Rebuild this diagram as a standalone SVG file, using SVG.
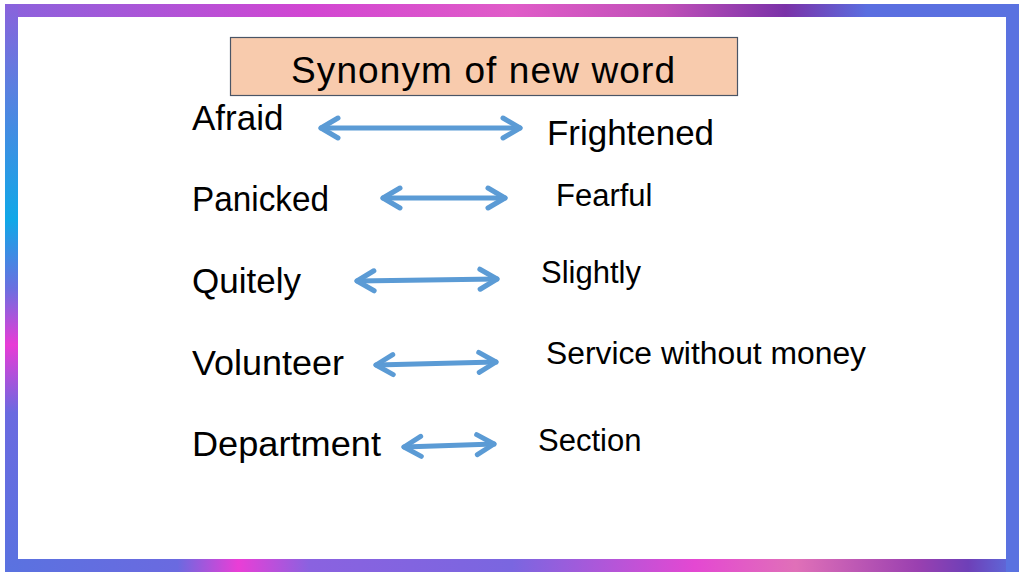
<svg xmlns="http://www.w3.org/2000/svg" width="1024" height="576" viewBox="0 0 1024 576">
  <defs>
    <linearGradient id="gTop" gradientUnits="userSpaceOnUse" x1="5" y1="0" x2="1019" y2="0">
      <stop offset="0" stop-color="#8a62dc"/>
      <stop offset="0.3" stop-color="#d246d2"/>
      <stop offset="0.5" stop-color="#e05cc8"/>
      <stop offset="0.65" stop-color="#c050b8"/>
      <stop offset="0.77" stop-color="#7a32a8"/>
      <stop offset="0.85" stop-color="#5a6ee0"/>
      <stop offset="1" stop-color="#5a72e0"/>
    </linearGradient>
    <linearGradient id="gBottom" gradientUnits="userSpaceOnUse" x1="5" y1="0" x2="1019" y2="0">
      <stop offset="0" stop-color="#5a72e0"/>
      <stop offset="0.17" stop-color="#6a6ae0"/>
      <stop offset="0.23" stop-color="#ea3ed6"/>
      <stop offset="0.3" stop-color="#8a62e0"/>
      <stop offset="0.5" stop-color="#7a66e0"/>
      <stop offset="0.68" stop-color="#e448d2"/>
      <stop offset="0.78" stop-color="#e070b8"/>
      <stop offset="0.9" stop-color="#9a40b0"/>
      <stop offset="0.95" stop-color="#6e40b8"/>
      <stop offset="1" stop-color="#5a72e0"/>
    </linearGradient>
    <linearGradient id="gLeft" gradientUnits="userSpaceOnUse" x1="0" y1="4" x2="0" y2="572">
      <stop offset="0" stop-color="#8a62dc"/>
      <stop offset="0.15" stop-color="#5a80e0"/>
      <stop offset="0.38" stop-color="#10a8e8"/>
      <stop offset="0.5" stop-color="#6a70e0"/>
      <stop offset="0.6" stop-color="#e83cd6"/>
      <stop offset="0.72" stop-color="#6a6ae0"/>
      <stop offset="1" stop-color="#5a72e0"/>
    </linearGradient>
    <marker id="head" viewBox="-22 -14 26 28" refX="0" refY="0" markerWidth="26" markerHeight="28" markerUnits="userSpaceOnUse" orient="auto-start-reverse">
      <path d="M-17,-10 L0,0 L-17,10" fill="none" stroke="#5b9bd5" stroke-width="5" stroke-linecap="round" stroke-linejoin="round"/>
    </marker>
  </defs>
  <style>
    .word { font-family: "Liberation Sans", Arial, sans-serif; fill: #000; }
    .big { font-size: 35px; }
    .small { font-size: 31px; }
    .arrow { stroke: #5b9bd5; stroke-width: 5; fill: none; stroke-linecap: round; marker-start: url(#head); marker-end: url(#head); }
  </style>
  <rect x="0" y="0" width="1024" height="576" fill="#ffffff"/>
  <g id="frame">
    <line x1="5" y1="10.5" x2="1019" y2="10.5" stroke="url(#gTop)" stroke-width="13"/>
    <line x1="5" y1="565.5" x2="1019" y2="565.5" stroke="url(#gBottom)" stroke-width="13"/>
    <line x1="11.5" y1="4" x2="11.5" y2="572" stroke="url(#gLeft)" stroke-width="13"/>
    <line x1="1012.5" y1="4" x2="1012.5" y2="572" stroke="#5a72e0" stroke-width="13"/>
  </g>
  <g id="title">
    <rect x="230.5" y="37.5" width="507" height="58" fill="#f8cbad" stroke="#4a5566" stroke-width="1.2"/>
    <text class="word" x="483" y="83" font-size="37" text-anchor="middle" textLength="384" lengthAdjust="spacing">Synonym of new word</text>
  </g>
  <g id="afraid"><text class="word big" x="192" y="130">Afraid</text></g>
  <g id="frightened"><text class="word big" x="547" y="145" textLength="167" lengthAdjust="spacingAndGlyphs">Frightened</text></g>
  <g id="panicked"><text class="word big" x="192" y="211" textLength="137" lengthAdjust="spacingAndGlyphs">Panicked</text></g>
  <g id="fearful"><text class="word small" x="556" y="206">Fearful</text></g>
  <g id="quitely"><text class="word big" x="192" y="293">Quitely</text></g>
  <g id="slightly"><text class="word small" x="541" y="283">Slightly</text></g>
  <g id="volunteer"><text class="word big" x="192" y="375" textLength="152" lengthAdjust="spacingAndGlyphs">Volunteer</text></g>
  <g id="service"><text class="word small" x="546" y="364" textLength="320" lengthAdjust="spacingAndGlyphs">Service without money</text></g>
  <g id="department"><text class="word big" x="192" y="456" textLength="189" lengthAdjust="spacingAndGlyphs">Department</text></g>
  <g id="section"><text class="word small" x="538" y="451">Section</text></g>
  <g id="connectors">
    <line class="arrow" x1="321" y1="128" x2="520" y2="128"/>
    <line class="arrow" x1="383" y1="198" x2="505" y2="198"/>
    <line class="arrow" x1="357" y1="281" x2="497" y2="279"/>
    <line class="arrow" x1="376" y1="365" x2="496" y2="362"/>
    <line class="arrow" x1="404" y1="447" x2="494" y2="444"/>
  </g>
</svg>
